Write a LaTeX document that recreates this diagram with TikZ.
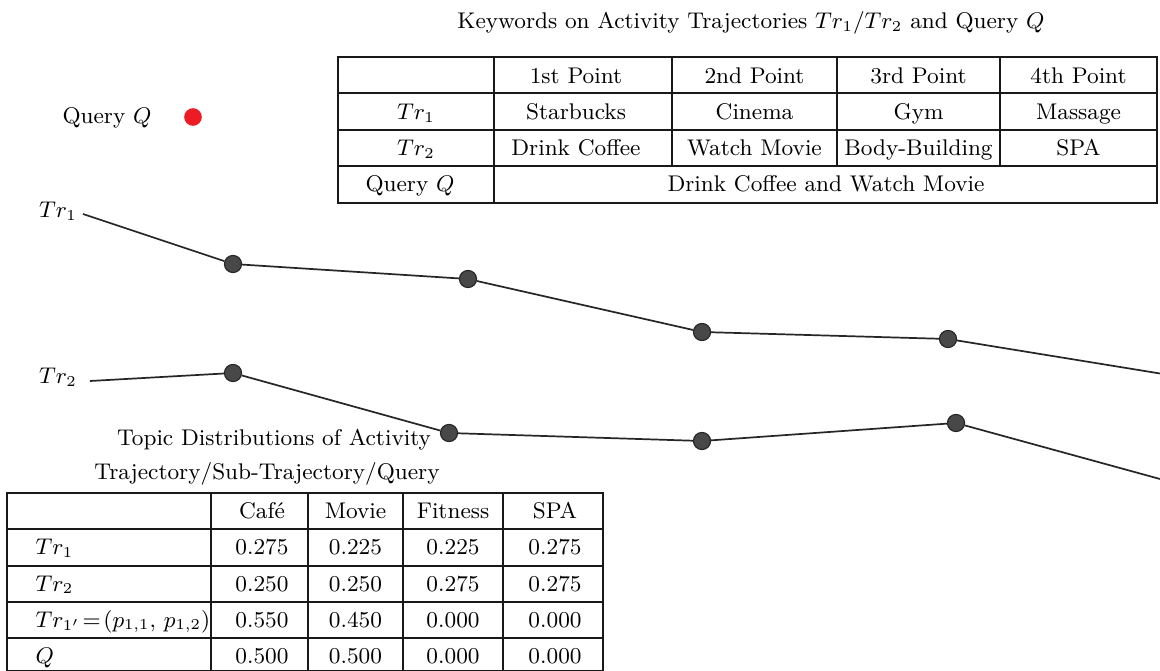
\documentclass[tikz,border=0pt]{standalone}
\definecolor{qred}{RGB}{237,28,36}
\definecolor{ptfill}{RGB}{72,72,72}
\tikzset{
  txt/.style={font=\fontsize{9}{10.8}\selectfont, inner sep=0pt, anchor=base},
  gridline/.style={line width=1.0pt, black!90},
  traj/.style={line width=0.68pt, black!85},
  tpt/.style={circle, draw=black!85, fill=ptfill, line width=0.45pt, minimum size=6.8pt, inner sep=0pt},
  qdot/.style={circle, fill=qred, minimum size=7.0pt, inner sep=0pt}
}
\begin{document}
\begin{tikzpicture}[x=0.397pt, y=-0.397pt]
\useasboundingbox (0,0) rectangle (1160,671);

% ---------- top title and table ----------
\node[txt] (ktitle) at (751,29) {Keywords on Activity Trajectories $Tr_1/Tr_2$ and Query $Q$};

\draw[gridline] (338,57) rectangle (1157,203);
\foreach \y in {93,130,166} \draw[gridline] (338,\y) -- (1157,\y);
\draw[gridline] (494,57) -- (494,203);
\foreach \x in {672,837,1000} \draw[gridline] (\x,57) -- (\x,166);

\node[txt] (h1) at (576,84) {1st Point};
\node[txt] (h2) at (754.5,84) {2nd Point};
\node[txt] (h3) at (918.5,84) {3rd Point};
\node[txt] (h4) at (1078.5,84) {4th Point};

\node[txt] (r1) at (416,120) {$Tr_1$};
\node[txt] (r1a) at (576,120) {Starbucks};
\node[txt] (r1b) at (754.5,120) {Cinema};
\node[txt] (r1c) at (918.5,120) {Gym};
\node[txt] (r1d) at (1078.5,120) {Massage};

\node[txt] (r2) at (416,156) {$Tr_2$};
\node[txt] (r2a) at (576,156) {Drink Coffee};
\node[txt] (r2b) at (754.5,156) {Watch Movie};
\node[txt] (r2c) at (918.5,156) {Body-Building};
\node[txt] (r2d) at (1078.5,156) {SPA};

\node[txt] (r3) at (410,192) {Query $Q$};
\node[txt] (r3a) at (826,192) {Drink Coffee and Watch Movie};

% ---------- query ----------
\node[txt] (qlabel) at (107,124) {Query $Q$};
\node[qdot] (qdot) at (193,117) {};

% ---------- trajectories ----------
\node[txt] (tr1lab) at (58,218) {$Tr_1$};
\node[txt] (tr2lab) at (58,384) {$Tr_2$};

\coordinate (s1) at (83,214);
\node[tpt] (p11) at (233,264) {};
\node[tpt] (p12) at (468,279) {};
\node[tpt] (p13) at (702,332) {};
\node[tpt] (p14) at (948,339) {};
\coordinate (e1) at (1160,373.5);

\coordinate (s2) at (90,381);
\node[tpt] (p21) at (233,373) {};
\node[tpt] (p22) at (449,433) {};
\node[tpt] (p23) at (702,441) {};
\node[tpt] (p24) at (956,423) {};
\coordinate (e2) at (1160,479);

\draw[traj] (s1) -- (p11) -- (p12) -- (p13) -- (p14) -- (e1);
\draw[traj] (s2) -- (p21) -- (p22) -- (p23) -- (p24) -- (e2);

% ---------- bottom title and table ----------
\node[txt] (btitle1) at (274,446) {Topic Distributions of Activity};
\node[txt] (btitle2) at (267,480) {Trajectory/Sub-Trajectory/Query};

\draw[gridline] (7,493) rectangle (603,671);
\foreach \y in {529,566,602,638} \draw[gridline] (7,\y) -- (603,\y);
\foreach \x in {211,308,403,503} \draw[gridline] (\x,493) -- (\x,671);

\node[txt] (c1) at (262,518) {Caf\'e};
\node[txt] (c2) at (355.5,518) {Movie};
\node[txt] (c3) at (453,518) {Fitness};
\node[txt] (c4) at (555,518) {SPA};

\node[txt, anchor=base west] (b1) at (35,555) {$Tr_1$};
\node[txt] (b1a) at (262,555) {0.275};
\node[txt] (b1b) at (355.5,555) {0.225};
\node[txt] (b1c) at (453,555) {0.225};
\node[txt] (b1d) at (555,555) {0.275};

\node[txt, anchor=base west] (b2) at (35,591) {$Tr_2$};
\node[txt] (b2a) at (262,591) {0.250};
\node[txt] (b2b) at (355.5,591) {0.250};
\node[txt] (b2c) at (453,591) {0.275};
\node[txt] (b2d) at (555,591) {0.275};

\node[txt, anchor=base west] (b3) at (35,627) {$Tr_{1'}\!=\!(p_{1,1},\,p_{1,2})$};
\node[txt] (b3a) at (262,627) {0.550};
\node[txt] (b3b) at (355.5,627) {0.450};
\node[txt] (b3c) at (453,627) {0.000};
\node[txt] (b3d) at (555,627) {0.000};

\node[txt, anchor=base west] (b4) at (35,663) {$Q$};
\node[txt] (b4a) at (262,663) {0.500};
\node[txt] (b4b) at (355.5,663) {0.500};
\node[txt] (b4c) at (453,663) {0.000};
\node[txt] (b4d) at (555,663) {0.000};
\end{tikzpicture}
\end{document}
